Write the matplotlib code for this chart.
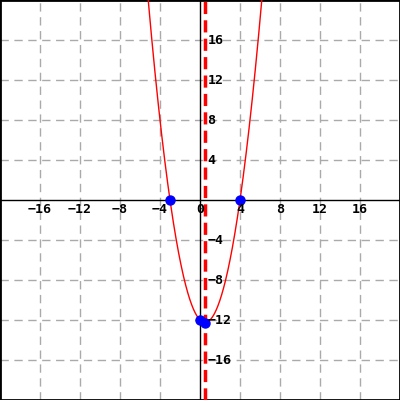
import numpy as np
import matplotlib
matplotlib.use("Agg")
import matplotlib.pyplot as plt

# Parabola y = a x^2 + b x + c
coef_a, coef_b, coef_c = 1.0, -1.0, -12.0
point_x = [-3, 4, 0, 0.5]
point_y = [0, 0, -12, -12.25]
axis_of_symmetry = 0.5
x_ticks = [-16, -12, -8, -4, 0, 4, 8, 12, 16]
y_ticks = [-16, -12, -8, -4, 4, 8, 12, 16]
grid_vals = [-16, -12, -8, -4, 4, 8, 12, 16]

fig = plt.figure(figsize=(4, 4), dpi=100)
ax = fig.add_axes([0, 0, 1, 1])
ax.set_xlim(-20, 20)
ax.set_ylim(-20, 20)
ax.set_xticks([])
ax.set_yticks([])
for s in ax.spines.values():
    s.set_linewidth(2)
    s.set_color("black")

for g in grid_vals:
    ax.axvline(g, color="#aaaaaa", lw=1, ls=(0, (6, 4)), zorder=1)
    ax.axhline(g, color="#aaaaaa", lw=1, ls=(0, (6, 4)), zorder=1)

ax.axhline(0, color="black", lw=1, zorder=2)
ax.axvline(0, color="black", lw=1, zorder=2)

xs = np.linspace(-20, 20, 2001)
ys = coef_a * xs**2 + coef_b * xs + coef_c
ax.plot(xs, ys, color="red", lw=1, zorder=3)
ax.axvline(axis_of_symmetry, color="red", lw=2.5, ls=(0, (3.5, 1.8)), zorder=4)
ax.plot(point_x, point_y, "o", color="blue", ms=6.5, zorder=5)

def fmt(v):
    return str(v).replace("-", "\u2212")

font = dict(family="DejaVu Sans Mono", weight="bold", size=9.5)
for t in x_ticks:
    ax.text(t, -0.3, fmt(t), ha="center", va="top", **font, zorder=6)
for t in y_ticks:
    ax.text(0.75, t, fmt(t), ha="left", va="center", **font, zorder=6)

fig.savefig("out.png", dpi=100)
